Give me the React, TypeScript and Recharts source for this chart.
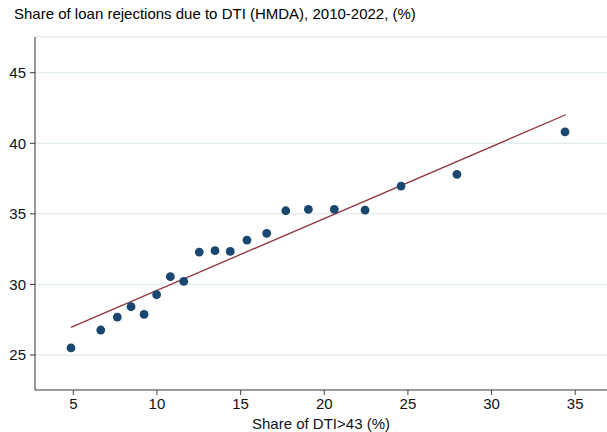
import React from 'react';
import { ComposedChart, Scatter, Line, XAxis, YAxis, CartesianGrid } from 'recharts';

const dtiShare = [4.86, 6.64, 7.63, 8.45, 9.23, 9.98, 10.8, 11.6, 12.53, 13.47, 14.38, 15.38, 16.56, 17.7, 19.05, 20.6, 22.44, 24.59, 27.93, 34.39];
const rejectShare = [25.5, 26.77, 27.69, 28.42, 27.88, 29.27, 30.55, 30.22, 32.29, 32.39, 32.34, 33.14, 33.62, 35.22, 35.32, 35.32, 35.27, 36.97, 37.8, 40.81];
const fitX = [4.86, 34.43];
const fitY = [26.96, 42.02];
const xTicks = [5, 10, 15, 20, 25, 30, 35];
const yTicks = [25, 30, 35, 40, 45];

const points = dtiShare.map((x, i) => ({ x, y: rejectShare[i] }));
const fit = fitX.map((x, i) => ({ x, y: fitY[i] }));

const FONT = '"Liberation Sans", Arial, sans-serif';

export default function App() {
  return (
    <div style={{ position: 'absolute', left: 0, top: 0, width: 607, height: 432, background: '#fff', fontFamily: FONT }}>
      <div style={{ position: 'absolute', left: 14, top: 6, fontSize: 15, lineHeight: '15px', color: '#000', whiteSpace: 'nowrap' }}>
        Share of loan rejections due to DTI (HMDA), 2010-2022, (%)
      </div>
      <ComposedChart width={607} height={432} margin={{ top: 37, right: 0, left: 0, bottom: 0 }}>
        <CartesianGrid horizontal={true} vertical={false} stroke="#e4eef1" strokeWidth={1.5} />
        <XAxis
          type="number"
          dataKey="x"
          domain={[2.71, 36.9]}
          ticks={xTicks}
          allowDataOverflow
          height={42}
          stroke="#444"
          tickSize={5}
          tickLine={{ stroke: '#444' }}
          tick={{ fill: '#111', fontSize: 15, fontFamily: FONT }}
          tickMargin={3}
          label={{ value: 'Share of DTI>43 (%)', position: 'insideBottom', offset: 3, fill: '#111', fontSize: 15, fontFamily: FONT }}
        />
        <YAxis
          type="number"
          dataKey="y"
          domain={[22.52, 47.53]}
          ticks={yTicks}
          allowDataOverflow
          width={35}
          stroke="#333"
          tickSize={5}
          tickLine={{ stroke: '#333' }}
          tick={{ fill: '#111', fontSize: 15, fontFamily: FONT }}
          tickMargin={4}
        />
        <Line data={fit} dataKey="y" type="linear" stroke="#90353b" strokeWidth={1.3} dot={false} isAnimationActive={false} />
        <Scatter data={points} dataKey="y" fill="#1a476f" isAnimationActive={false} shape={(p: any) => <circle cx={p.cx} cy={p.cy} r={4.4} fill="#1a476f" />} />
      </ComposedChart>
    </div>
  );
}
